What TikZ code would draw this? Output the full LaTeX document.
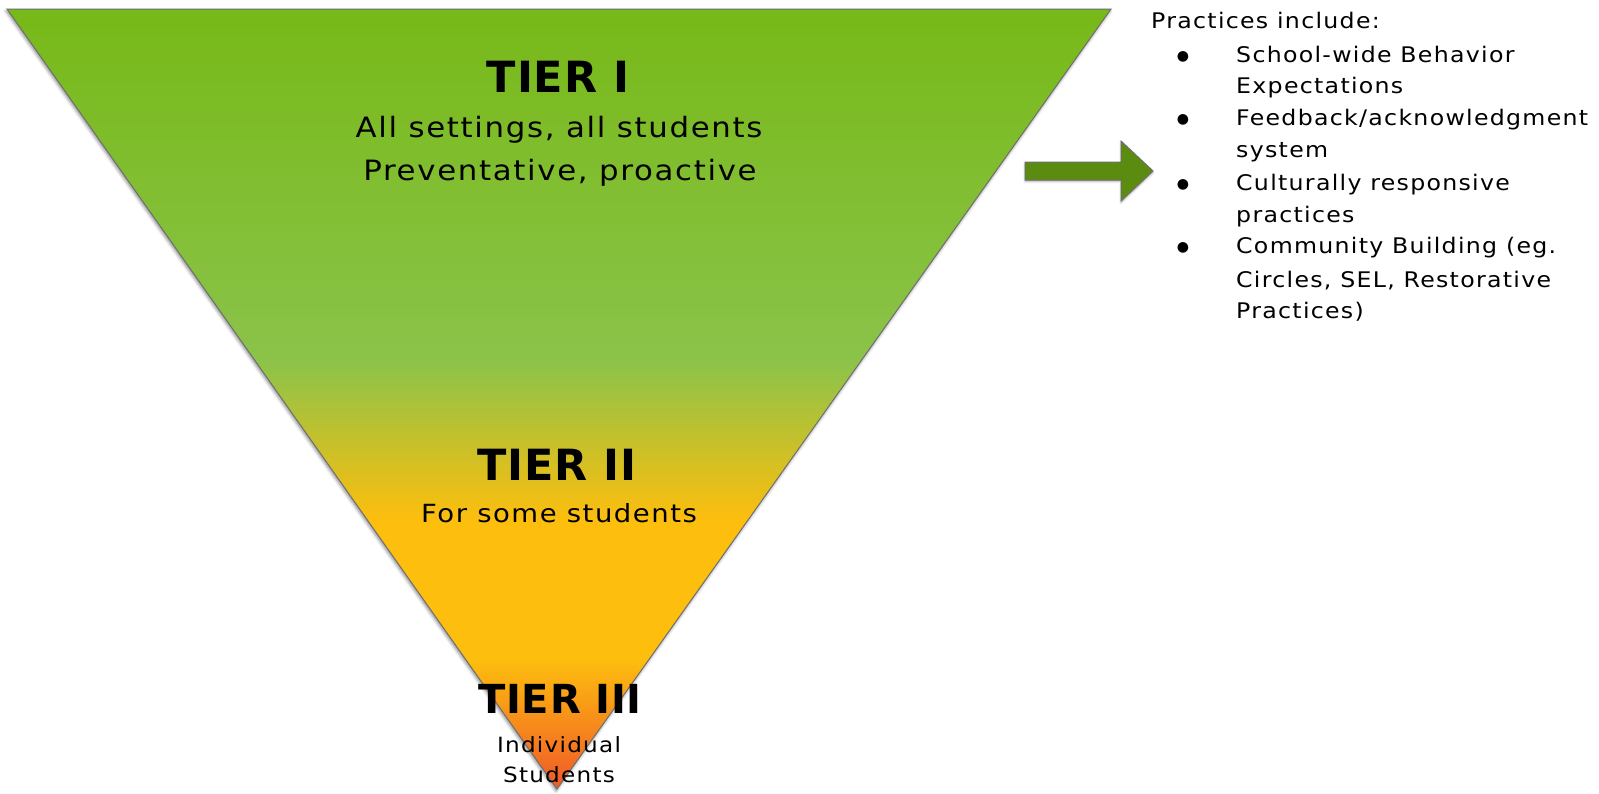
\documentclass[tikz,border=0pt]{standalone}
\usepackage{fontspec}
\setmainfont{DejaVu Sans}[FakeStretch=1.1, LetterSpace=6]
\newfontfamily\tierfont{DejaVu Sans}[LetterSpace=2]
\newfontfamily\bulletfont{DejaVu Sans}
\usetikzlibrary{shadows.blur}
\definecolor{gTop}{RGB}{119,185,24}
\definecolor{gMid}{RGB}{139,195,74}
\definecolor{yMid}{RGB}{253,190,14}
\definecolor{oBot}{RGB}{240,88,40}
\definecolor{arrowgreen}{RGB}{91,140,15}
\definecolor{edgegray}{RGB}{110,110,110}
\pgfdeclareverticalshading{tiershade}{100bp}{%
  color(0bp)=(oBot); color(25bp)=(oBot); color(33.3bp)=(yMid);
  color(42.3bp)=(yMid); color(52.5bp)=(gMid); color(75bp)=(gTop); color(100bp)=(gTop)}
\tikzset{
  tiertitle/.style={inner sep=0pt, anchor=base, font=\tierfont\bfseries\fontsize{43}{46}\selectfont},
  tiertext/.style={inner sep=0pt, anchor=base, font=\fontsize{28}{32}\selectfont},
  tiersmall/.style={inner sep=0pt, anchor=base, font=\fontsize{21}{24}\selectfont},
  listtext/.style={inner sep=0pt, anchor=base west, font=\fontsize{21.5}{24}\selectfont},
  bulletmark/.style={inner sep=0pt, anchor=base, font=\bulletfont\fontsize{14}{16}\selectfont},
}
\begin{document}
\begin{tikzpicture}[x=1pt,y=-1pt]
\useasboundingbox (0,0) rectangle (1599,793);
% triangle
\path[shading=tiershade, draw=edgegray, line width=1pt,
  blur shadow={shadow xshift=-1pt, shadow yshift=-2pt, shadow blur radius=3pt, shadow opacity=45}]
  (7,9) -- (1111,9) -- (557,789) -- cycle;
% arrow
\path[fill=arrowgreen, draw=edgegray, line width=1pt,
  blur shadow={shadow xshift=0pt, shadow yshift=-1.5pt, shadow blur radius=2pt, shadow opacity=35}]
  (1025,162) -- (1121,162) -- (1121,141) -- (1153,171) -- (1121,201) -- (1121,180) -- (1025,180) -- cycle;
% tier texts
\node[tiertitle] (t1) at (558,92) {TIER I};
\node[tiertext] (t1a) at (559,137) {All settings, all students};
\node[tiertext] (t1b) at (560,180) {Preventative, proactive};
\node[tiertitle] (t2) at (557,480) {TIER II};
\node[tiertext, font=\fontsize{25}{28}\selectfont] (t2a) at (559,522) {For some students};
\node[tiertitle, font=\tierfont\bfseries\fontsize{40}{44}\selectfont] (t3) at (560,713) {TIER III};
\node[tiersmall] (t3a) at (559,752) {Individual};
\node[tiersmall] (t3b) at (559,782) {Students};
% list
\node[listtext] (lh) at (1151,28) {Practices include:};
\node[bulletmark] (b1) at (1183,60) {●};
\node[listtext] (l1) at (1236,62) {School-wide Behavior};
\node[listtext] (l1b) at (1236,93) {Expectations};
\node[bulletmark] (b2) at (1183,123) {●};
\node[listtext] (l2) at (1236,125) {Feedback/acknowledgment};
\node[listtext] (l2b) at (1236,157) {system};
\node[bulletmark] (b3) at (1183,188) {●};
\node[listtext] (l3) at (1236,190) {Culturally responsive};
\node[listtext] (l3b) at (1236,222) {practices};
\node[bulletmark] (b4) at (1183,251) {●};
\node[listtext] (l4) at (1236,253) {Community Building (eg.};
\node[listtext] (l4b) at (1236,287) {Circles, SEL, Restorative};
\node[listtext] (l4c) at (1236,318) {Practices)};
\end{tikzpicture}
\end{document}
